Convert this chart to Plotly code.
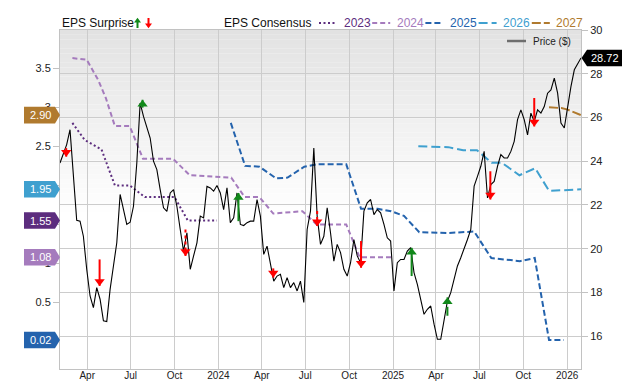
import plotly.graph_objects as go
import pandas as pd

# ---------------- data ----------------
price_end = "2026-01-30"
price_values = [
    23.92, 24.30, 24.76, 25.44, 23.47, 21.30, 21.26, 20.57, 19.06, 17.84,
    17.31, 18.22, 17.69, 16.70, 16.67, 18.14, 19.21, 20.27, 22.48, 21.72,
    21.11, 21.21, 21.94, 23.92, 26.66, 26.05, 25.52, 25.06, 24.00, 23.62,
    22.70, 21.87, 21.71, 22.55, 22.70, 21.94, 20.88, 19.89, 20.73,
    19.06, 19.67, 20.27, 21.49, 21.41, 22.85, 22.78, 22.63, 22.89, 22.55,
    21.79, 22.78, 21.19, 21.41, 22.55, 21.11, 21.06, 21.19, 21.26, 21.26,
    22.25, 21.49, 19.74, 20.12, 19.36, 18.52, 18.75, 18.83, 18.22, 18.68,
    18.22, 18.45, 18.07, 18.52, 17.54, 20.88, 21.72, 24.60, 21.49,
    20.20, 20.57, 21.87, 20.73, 19.43, 20.20, 19.82, 19.06, 18.75, 19.36,
    20.42, 19.67, 19.36, 21.72, 22.10, 22.25, 21.56, 21.79, 21.64, 21.11,
    20.50, 20.35, 18.07, 19.36, 19.51, 19.51, 19.89, 20.05, 18.91, 18.37,
    17.61, 17.00, 17.23, 17.38, 16.55, 15.86, 15.86, 16.78, 17.60,
    17.99, 18.60, 19.21, 19.59, 19.97, 20.42, 20.88, 22.86, 23.31, 23.77,
    24.45, 22.32, 22.93, 23.08, 23.77, 24.30, 24.15, 24.15, 24.45, 24.91,
    25.90, 26.35, 25.90, 25.20, 26.20, 25.82, 26.35, 26.20, 26.50, 27.11,
    27.26, 27.80, 27.11, 25.74, 25.52, 26.50, 27.42, 28.18, 28.48, 28.72,
]

cons_2023_dates = ["2023-03-01", "2023-03-27", "2023-05-01", "2023-05-29", "2023-06-29",
                   "2023-07-31", "2023-10-01", "2023-10-29", "2023-12-29"]
cons_2023_vals = [2.80, 2.58, 2.46, 2.00, 2.00, 1.85, 1.85, 1.55, 1.55]

cons_2024_dates = ["2023-03-01", "2023-03-31", "2023-04-24", "2023-05-10", "2023-05-29",
                   "2023-06-29", "2023-07-27", "2023-09-28", "2023-11-02", "2024-01-28",
                   "2024-02-25", "2024-03-27", "2024-04-25", "2024-06-25", "2024-07-25",
                   "2024-09-25", "2024-10-23", "2024-12-28"]
cons_2024_vals = [3.63, 3.61, 3.35, 3.12, 2.76, 2.76, 2.34, 2.34, 2.13, 2.10,
                  1.85, 1.85, 1.64, 1.67, 1.50, 1.50, 1.08, 1.08]

cons_2025_dates = ["2024-01-27", "2024-02-26", "2024-03-27", "2024-05-01", "2024-05-25",
                   "2024-06-29", "2024-07-26", "2024-09-25", "2024-10-26", "2024-11-30",
                   "2024-12-28", "2025-01-24", "2025-02-25", "2025-04-27", "2025-06-20",
                   "2025-07-26", "2025-09-24", "2025-10-25", "2025-11-24", "2025-12-25"]
cons_2025_vals = [2.80, 2.25, 2.24, 2.09, 2.10, 2.24, 2.27, 2.27, 1.70, 1.70,
                  1.67, 1.61, 1.40, 1.39, 1.41, 1.07, 1.03, 1.07, 0.02, 0.02]

cons_2026_dates = ["2025-02-23", "2025-04-27", "2025-05-28", "2025-06-26", "2025-07-27",
                   "2025-08-17", "2025-09-23", "2025-10-26", "2025-11-24", "2026-01-30"]
cons_2026_vals = [2.50, 2.49, 2.45, 2.45, 2.29, 2.29, 2.13, 2.22, 1.93, 1.95]

cons_2027_dates = ["2025-11-24", "2025-12-20", "2026-01-02", "2026-01-30"]
cons_2027_vals = [3.00, 2.99, 2.97, 2.90]

cons_years = ["2023", "2024", "2025", "2026", "2027"]
cons_labels = ["1.55", "1.08", "0.02", "1.95", "2.90"]

surprise_dates = ["2023-02-16", "2023-04-27", "2023-07-26", "2023-10-24", "2024-02-12",
                  "2024-04-25", "2024-07-26", "2024-10-26", "2025-02-09", "2025-04-25",
                  "2025-07-24", "2025-10-24"]
surprise_from = [24.60, 19.51, 26.45, 20.88, 21.26, 19.10, 21.72, 20.35, 18.75, 16.94, 23.54, 26.89]
surprise_to = [24.21, 18.30, 26.81, 19.67, 22.55, 18.68, 21.03, 19.13, 20.04, 17.78, 22.25, 25.59]
surprise_style = ["solid", "solid", "solid", "dot", "solid", "solid", "dot", "solid",
                  "solid", "dash", "solid", "solid"]

x_tick_dates = ["2023-04-01", "2023-07-01", "2023-10-01", "2024-01-01", "2024-04-01", "2024-07-01",
                "2024-10-01", "2025-01-01", "2025-04-01", "2025-07-01", "2025-10-01", "2026-01-01"]
x_tick_labels = ["Apr", "Jul", "Oct", "2024", "Apr", "Jul", "Oct", "2025", "Apr", "Jul", "Oct", "2026"]
eps_ticks = [0, 0.5, 1, 1.5, 2, 2.5, 3, 3.5]
price_ticks = [16, 18, 20, 22, 24, 26, 28, 30]

# ---------------- styling ----------------
W, H = 640, 382
M = dict(l=60, r=59, t=30, b=13)
PW = W - M["l"] - M["r"]
PH = H - M["t"] - M["b"]
Y1_RANGE = [-0.351, 3.99]
Y2_RANGE = [14.50, 30.0]
FONT = "Liberation Sans, Arial, sans-serif"
GRID = "#cccccc"
AXL = "#c2c2c2"

def px(x):
    return (x - M["l"]) / PW

def py(y):
    return (H - M["b"] - y) / PH

cons_colors = {"2023": "#5c2d7e", "2024": "#a57bbd", "2025": "#2463ad",
               "2026": "#3fa0cf", "2027": "#b07a2e"}
cons_dash = {"2023": "2px,2.5px", "2024": "5px,3px", "2025": "6px,3px",
             "2026": "9px,4px", "2027": "9px,3px"}
cons_data = {
    "2023": (cons_2023_dates, cons_2023_vals),
    "2024": (cons_2024_dates, cons_2024_vals),
    "2025": (cons_2025_dates, cons_2025_vals),
    "2026": (cons_2026_dates, cons_2026_vals),
    "2027": (cons_2027_dates, cons_2027_vals),
}

price_dates = pd.date_range(end=price_end, periods=len(price_values), freq="7D")

fig = go.Figure()

for yr in cons_years:
    d, v = cons_data[yr]
    fig.add_trace(go.Scatter(x=pd.to_datetime(d), y=v, mode="lines", yaxis="y",
                             line=dict(color=cons_colors[yr], width=2, dash=cons_dash[yr]),
                             hoverinfo="skip", showlegend=False))

fig.add_trace(go.Scatter(x=price_dates, y=price_values, mode="lines", yaxis="y2",
                         line=dict(color="#000000", width=1.1), showlegend=False))

# surprise arrows
px_per_unit = PH / (Y2_RANGE[1] - Y2_RANGE[0])
head_size = 9
for d, a, b, st in zip(surprise_dates, surprise_from, surprise_to, surprise_style):
    up = b > a
    col = "#11881a" if up else "#ff0000"
    fig.add_trace(go.Scatter(x=[pd.Timestamp(d)] * 2, y=[a, b], mode="lines", yaxis="y2",
                             line=dict(color=col, width=2, dash=st),
                             hoverinfo="skip", showlegend=False))
    off = (head_size / 2) / px_per_unit
    hy = b - off if up else b + off
    fig.add_trace(go.Scatter(x=[pd.Timestamp(d)], y=[hy], mode="markers", yaxis="y2",
                             marker=dict(symbol="triangle-up" if up else "triangle-down",
                                         size=head_size, color=col, line=dict(width=0)),
                             hoverinfo="skip", showlegend=False))

shapes = []
annotations = []

# background gradient (top gray -> white)
nb = 40
top, bot = 1.0, 0.45
for i in range(nb):
    y0 = top - (top - bot) * i / nb
    y1 = top - (top - bot) * (i + 1) / nb
    c = int(round(226 + (255 - 226) * (i + 0.5) / nb))
    shapes.append(dict(type="rect", xref="paper", yref="paper", x0=0, x1=1, y0=y1, y1=y0,
                       fillcolor=f"rgb({c},{c},{c})", line=dict(width=0), layer="below"))

# legend: EPS Surprise
LY = 23
annotations.append(dict(text="EPS Surprise", x=px(60), y=py(LY), xref="paper", yref="paper",
                        xanchor="left", yanchor="middle", showarrow=False,
                        font=dict(family=FONT, size=12, color="#111")))
shapes.append(dict(type="path", xref="paper", yref="paper", xsizemode="pixel", ysizemode="pixel",
                   xanchor=px(137.5), yanchor=py(LY),
                   path="M -1,-5 L 1,-5 L 1,0.5 L 3.5,0.5 L 0,5.2 L -3.5,0.5 L -1,0.5 Z",
                   fillcolor="#11881a", line=dict(width=0)))
shapes.append(dict(type="path", xref="paper", yref="paper", xsizemode="pixel", ysizemode="pixel",
                   xanchor=px(148.5), yanchor=py(LY),
                   path="M -1,5 L 1,5 L 1,-0.5 L 3.5,-0.5 L 0,-5.2 L -3.5,-0.5 L -1,-0.5 Z",
                   fillcolor="#ff0000", line=dict(width=0)))

annotations.append(dict(text="EPS Consensus", x=px(221.5), y=py(LY), xref="paper", yref="paper",
                        xanchor="left", yanchor="middle", showarrow=False,
                        font=dict(family=FONT, size=12, color="#111")))
for i, yr in enumerate(cons_years):
    x0 = 319 + i * 53.2
    shapes.append(dict(type="line", xref="paper", yref="paper", x0=px(x0), x1=px(x0 + 18),
                       y0=py(LY), y1=py(LY),
                       line=dict(color=cons_colors[yr], width=2.2, dash=cons_dash[yr])))
    annotations.append(dict(text=yr, x=px(x0 + 22.5), y=py(LY), xref="paper", yref="paper",
                            xanchor="left", yanchor="middle", showarrow=False,
                            font=dict(family=FONT, size=12, color=cons_colors[yr])))

# Price legend inside plot
shapes.append(dict(type="line", xref="paper", yref="paper", x0=px(507), x1=px(526),
                   y0=py(41), y1=py(41), line=dict(color="#6e6e6e", width=2.5)))
annotations.append(dict(text="Price ($)", x=px(531), y=py(41), xref="paper", yref="paper",
                        xanchor="left", yanchor="middle", showarrow=False,
                        font=dict(family=FONT, size=10, color="#222")))

# left value tags for consensus last values
for yr, lab in zip(cons_years, cons_labels):
    val = float(lab)
    shapes.append(dict(type="path", xref="paper", yref="y", xsizemode="pixel", ysizemode="pixel",
                       xanchor=0, yanchor=val,
                       path="M -36,8.3 L -5,8.3 L 0,0 L -5,-8.3 L -36,-8.3 Z",
                       fillcolor=cons_colors[yr], line=dict(width=0), layer="above"))
    annotations.append(dict(text=lab, x=px(40), y=val, xref="paper", yref="y",
                            xanchor="center", yanchor="middle", showarrow=False,
                            font=dict(family=FONT, size=11, color="#ffffff")))

# right price tag
shapes.append(dict(type="path", xref="paper", yref="y2", xsizemode="pixel", ysizemode="pixel",
                   xanchor=1, yanchor=price_values[-1],
                   path="M 0.5,0 L 6,8.3 L 41,8.3 L 41,-8.3 L 6,-8.3 Z",
                   fillcolor="#000000", line=dict(width=0), layer="above"))
annotations.append(dict(text=f"{price_values[-1]:.2f}", x=px(604.5), y=price_values[-1],
                        xref="paper", yref="y2", xanchor="center", yanchor="middle",
                        showarrow=False, font=dict(family=FONT, size=11, color="#ffffff")))

fig.update_layout(
    width=W, height=H, margin=M, autosize=False,
    paper_bgcolor="#ffffff", plot_bgcolor="#ffffff",
    showlegend=False, shapes=shapes, annotations=annotations,
    font=dict(family=FONT, size=11, color="#222"),
    xaxis=dict(type="date", range=[price_dates[0], price_dates[-1]], automargin=False,
               tickvals=pd.to_datetime(x_tick_dates), ticktext=x_tick_labels,
               showgrid=True, gridcolor=GRID, gridwidth=1, zeroline=False,
               showline=True, linecolor=AXL, linewidth=1, mirror=True,
               ticks="", ticklabelstandoff=-3, tickfont=dict(size=10, color="#222")),
    yaxis=dict(range=Y1_RANGE, tickvals=eps_ticks, showgrid=False, zeroline=False,
               automargin=False,
               showline=True, linecolor=AXL, linewidth=1,
               ticks="outside", ticklen=6, tickcolor=AXL,
               tickfont=dict(size=11, color="#222")),
    yaxis2=dict(range=Y2_RANGE, tickvals=price_ticks, overlaying="y", side="right",
                automargin=False,
                showgrid=True, gridcolor=GRID, gridwidth=1, zeroline=False,
                showline=True, linecolor=AXL, linewidth=1,
                ticks="outside", ticklen=6, tickcolor=AXL,
                tickfont=dict(size=11, color="#222")),
)

fig.write_html("out.html")
